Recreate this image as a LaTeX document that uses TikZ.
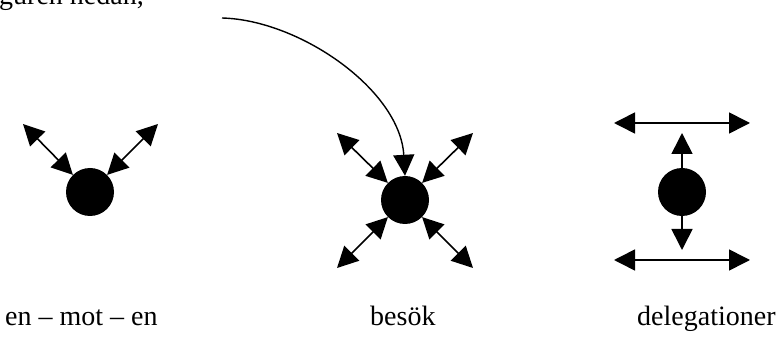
\documentclass[tikz,border=0pt]{standalone}
\usepackage{fontspec}
\setmainfont{Liberation Serif}
\usetikzlibrary{arrows.meta}

\begin{document}
\begin{tikzpicture}[
  x=1pt, y=-1pt,
  dot/.style={circle, fill=black, draw=none, inner sep=0pt, minimum size=48pt},
  arr/.style={-{Triangle[length=21pt, width=21pt]}, line width=1.6pt},
  dblarr/.style={{Triangle[length=21pt, width=21pt]}-{Triangle[length=21pt, width=21pt]}, line width=1.6pt},
  curvearr/.style={-{Triangle[length=21pt, width=21pt]}, line width=1.4pt},
  lbl/.style={anchor=base west, inner sep=0pt, font=\fontsize{28}{34}\selectfont}
]
\useasboundingbox (0,0) rectangle (779,347);

% text cut at the top
\node[lbl] (top) at (-1,5) {guren nedan,};

% en - mot - en
\node[dot] (one) at (90,192) {};
\coordinate (oneNW) at (23,124);
\coordinate (oneNE) at (158,124);
\draw[dblarr] (one.135) -- (oneNW);
\draw[dblarr] (one.45) -- (oneNE);

% besok
\node[dot] (visit) at (405,200) {};
\coordinate (visitNW) at (337,133);
\coordinate (visitNE) at (473,133);
\coordinate (visitSW) at (337,268);
\coordinate (visitSE) at (473,268);
\draw[dblarr] (visit.135) -- (visitNW);
\draw[dblarr] (visit.45) -- (visitNE);
\draw[dblarr] (visit.225) -- (visitSW);
\draw[dblarr] (visit.315) -- (visitSE);
\coordinate (from) at (222,18);
\draw[curvearr] (from) .. controls (300,20) and (400,90) .. (visit.north);

% delegationer
\node[dot] (deleg) at (682,192) {};
\coordinate (delegUp) at (682,133);
\coordinate (delegDown) at (682,250);
\coordinate (topL) at (614,123);
\coordinate (topR) at (750,123);
\coordinate (botL) at (614,260);
\coordinate (botR) at (750,260);
\draw[arr] (deleg.north) -- (delegUp);
\draw[arr] (deleg.south) -- (delegDown);
\draw[dblarr] (topL) -- (topR);
\draw[dblarr] (botL) -- (botR);

% labels
\node[lbl] (lab1) at (5,326) {en – mot – en};
\node[lbl] (lab2) at (370,326) {besök};
\node[lbl] (lab3) at (637,326) {delegationer};
\end{tikzpicture}
\end{document}
